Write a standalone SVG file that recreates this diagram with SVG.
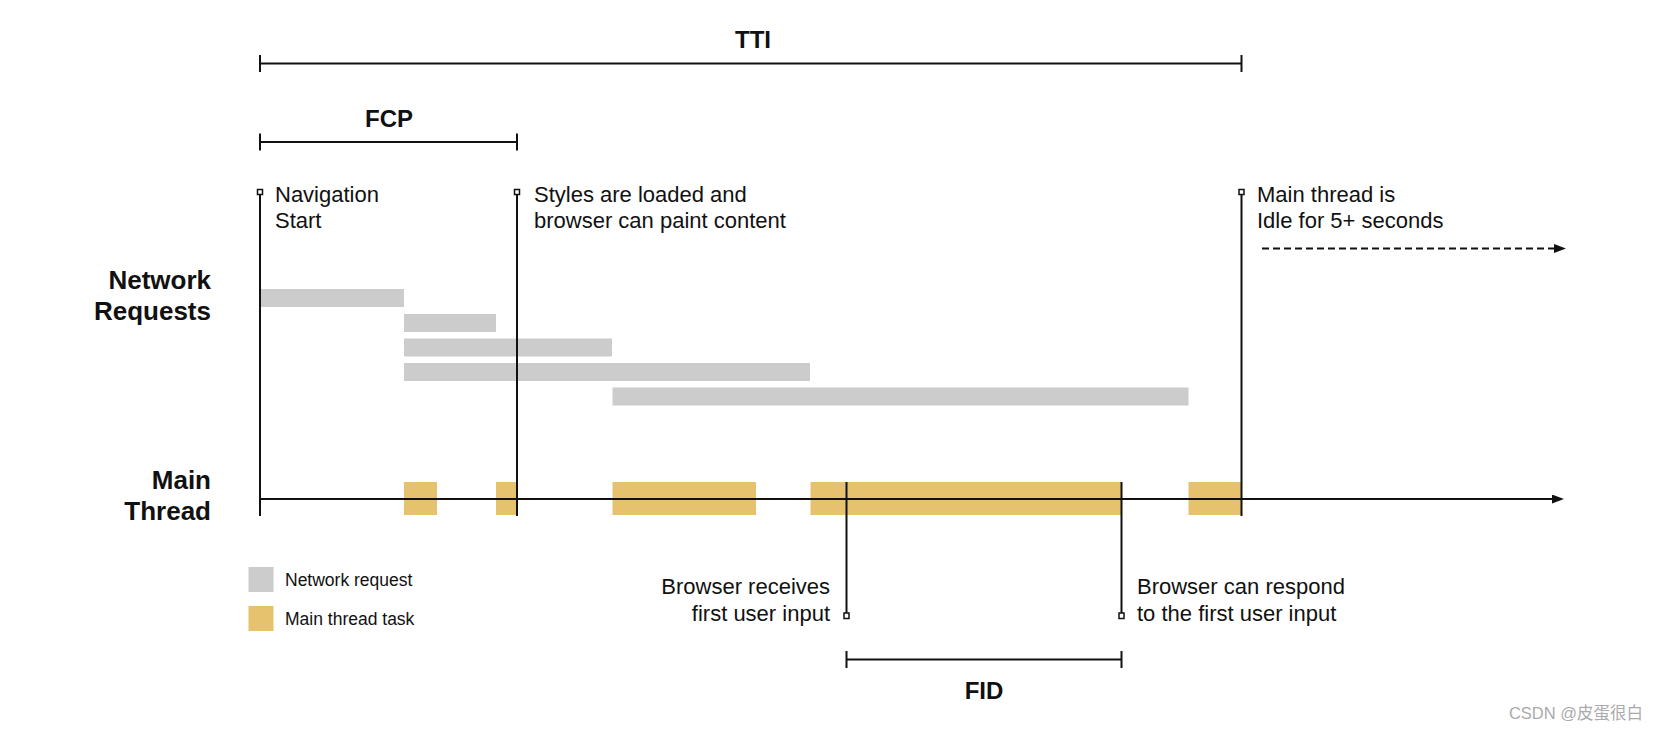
<svg xmlns="http://www.w3.org/2000/svg" width="1658" height="732" viewBox="0 0 1658 732">
<style>
.ln{stroke:#111;stroke-width:2;fill:none}
.mk{stroke:#111;stroke-width:1.5;fill:#fff}
.net{fill:#cccccc}
.task{fill:#e6c26e}
.t{font-family:"Liberation Sans",Arial,sans-serif;font-size:22px;fill:#111}
.b{font-family:"Liberation Sans",Arial,sans-serif;font-size:26px;font-weight:bold;fill:#111}
.h{font-family:"Liberation Sans",Arial,sans-serif;font-size:24px;font-weight:bold;fill:#111;text-anchor:middle}
.lg{font-family:"Liberation Sans",Arial,sans-serif;font-size:17.5px;fill:#111}
</style>
<defs>
<marker id="arr" viewBox="0 0 12 9" refX="0" refY="4.5" markerWidth="12" markerHeight="9" markerUnits="userSpaceOnUse" orient="auto">
<path d="M0,0 L12,4.5 L0,9 Z" fill="#111"/>
</marker>
</defs>

<g id="row-labels">
<text class="b" x="211" y="289" text-anchor="end">Network</text>
<text class="b" x="211" y="320" text-anchor="end">Requests</text>
<text class="b" x="211" y="489" text-anchor="end">Main</text>
<text class="b" x="211" y="520" text-anchor="end">Thread</text>
</g>

<g id="network-requests">
<rect class="net" x="260" y="289" width="144" height="18"/>
<rect class="net" x="404" y="314" width="92" height="18"/>
<rect class="net" x="404" y="338.5" width="208" height="18"/>
<rect class="net" x="404" y="363" width="406" height="18"/>
<rect class="net" x="612.5" y="387.5" width="576" height="18"/>
</g>

<g id="main-thread-tasks">
<rect class="task" x="404" y="482" width="33" height="33"/>
<rect class="task" x="496" y="482" width="21" height="33"/>
<rect class="task" x="612.5" y="482" width="143.5" height="33"/>
<rect class="task" x="810.5" y="482" width="311" height="33"/>
<rect class="task" x="1188.5" y="482" width="53" height="33"/>
</g>

<g id="connectors">
<line class="ln" x1="260" y1="499" x2="1552" y2="499" marker-end="url(#arr)"/>
<line class="ln" x1="1262" y1="248.5" x2="1554" y2="248.5" stroke-dasharray="7 4" marker-end="url(#arr)"/>
<!-- TTI span -->
<line class="ln" x1="260" y1="63.5" x2="1241.5" y2="63.5"/>
<line class="ln" x1="260" y1="55" x2="260" y2="72"/>
<line class="ln" x1="1241.5" y1="55" x2="1241.5" y2="72"/>
<!-- FCP span -->
<line class="ln" x1="260" y1="142" x2="517" y2="142"/>
<line class="ln" x1="260" y1="133.5" x2="260" y2="150.5"/>
<line class="ln" x1="517" y1="133.5" x2="517" y2="150.5"/>
<!-- FID span -->
<line class="ln" x1="846.5" y1="659.5" x2="1121.5" y2="659.5"/>
<line class="ln" x1="846.5" y1="651" x2="846.5" y2="668"/>
<line class="ln" x1="1121.5" y1="651" x2="1121.5" y2="668"/>
<!-- event lines -->
<line class="ln" x1="260" y1="194.5" x2="260" y2="516"/>
<line class="ln" x1="517" y1="194.5" x2="517" y2="516"/>
<line class="ln" x1="1241.5" y1="194.5" x2="1241.5" y2="516"/>
<line class="ln" x1="846.5" y1="482" x2="846.5" y2="613"/>
<line class="ln" x1="1121.5" y1="482" x2="1121.5" y2="613"/>
<!-- markers -->
<rect class="mk" x="257.5" y="189.5" width="5" height="5"/>
<rect class="mk" x="514.5" y="189.5" width="5" height="5"/>
<rect class="mk" x="1239" y="189.5" width="5" height="5"/>
<rect class="mk" x="844" y="613" width="5" height="5.5"/>
<rect class="mk" x="1119" y="613" width="5" height="5.5"/>
</g>

<g id="span-labels">
<text class="h" x="753" y="48">TTI</text>
<text class="h" x="389" y="127">FCP</text>
<text class="h" x="984" y="699">FID</text>
</g>

<g id="event-nav">
<text class="t" x="275" y="201.5">Navigation</text>
<text class="t" x="275" y="227.5">Start</text>
</g>
<g id="event-styles">
<text class="t" x="534" y="201.5">Styles are loaded and</text>
<text class="t" x="534" y="227.5">browser can paint content</text>
</g>
<g id="event-idle">
<text class="t" x="1257" y="201.5">Main thread is</text>
<text class="t" x="1257" y="227.5">Idle for 5+ seconds</text>
</g>
<g id="event-input">
<text class="t" x="830" y="594" text-anchor="end">Browser receives</text>
<text class="t" x="830" y="620.5" text-anchor="end">first user input</text>
</g>
<g id="event-respond">
<text class="t" x="1137" y="594">Browser can respond</text>
<text class="t" x="1137" y="620.5">to the first user input</text>
</g>

<g id="legend">
<rect class="net" x="248.5" y="567" width="25" height="25"/>
<text class="lg" x="285" y="586">Network request</text>
<rect class="task" x="248.5" y="606" width="25" height="25"/>
<text class="lg" x="285" y="624.5">Main thread task</text>
</g>

<text x="1643" y="719" text-anchor="end" style="font-family:'Liberation Sans','Noto Sans CJK SC',sans-serif;font-size:16.5px;fill:#aaa">CSDN @皮蛋很白</text>
</svg>
